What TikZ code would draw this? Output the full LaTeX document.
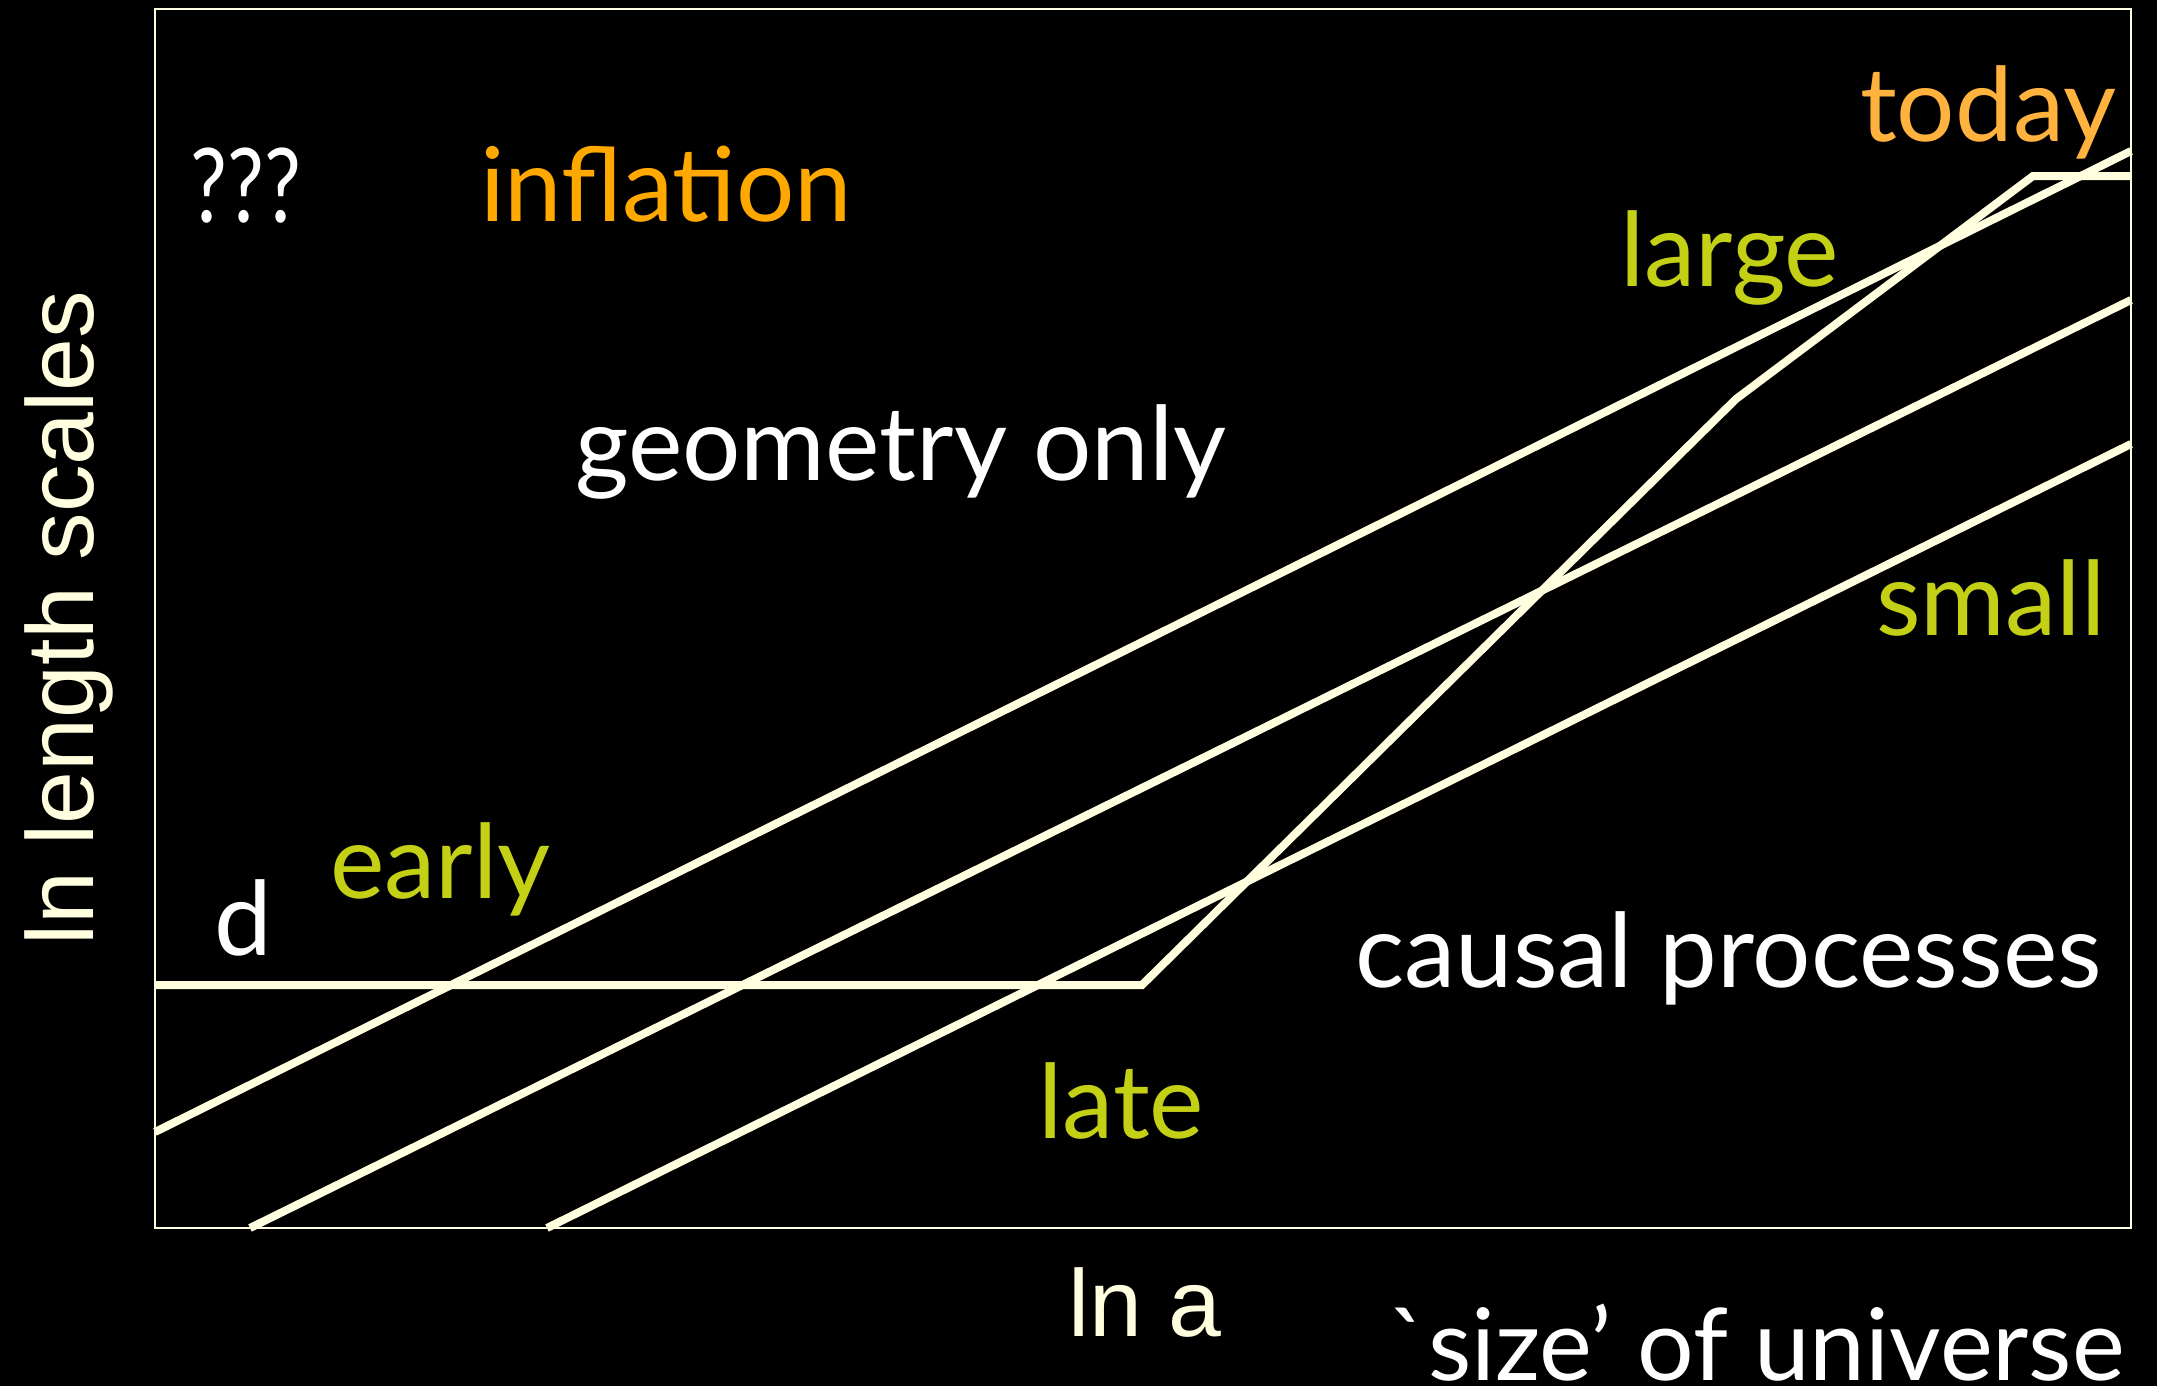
\documentclass[tikz,border=0pt]{standalone}
\usepackage{fontspec}
\usepackage{tikz}
\usetikzlibrary{positioning}
\newfontfamily\gill{Lato}
\newfontfamily\helv{Liberation Sans}
\definecolor{cream}{RGB}{255,255,224}
\definecolor{inflorange}{RGB}{255,168,0}
\definecolor{todayorange}{RGB}{255,178,62}
\definecolor{epochgreen}{RGB}{196,208,22}
\tikzstyle{word} = [anchor=base west, inner sep=0pt, font=\gill\fontsize{103}{110}\selectfont]
\tikzstyle{axisword} = [inner sep=0pt, font=\helv\fontsize{95}{100}\selectfont, cream]
\tikzstyle{track} = [draw=cream, line width=8pt]

\begin{document}
\begin{tikzpicture}[x=1pt, y=-1pt]
    \fill[black] (0,0) rectangle (2157,1386);
    \useasboundingbox (0,0) rectangle (2157,1386);
    \draw[cream, line width=2pt] (155,9) rectangle (2131,1228);

    % comoving scales
    \coordinate (s1a) at (155,1132);
    \coordinate (s1b) at (2131,151);
    \coordinate (s2a) at (250,1228);
    \coordinate (s2b) at (2131,300);
    \coordinate (s3a) at (547,1228);
    \coordinate (s3b) at (2131,444);
    \draw [track] (s1a) -- (s1b);
    \draw [track] (s2a) -- (s2b);
    \draw [track] (s3a) -- (s3b);

    % horizon
    \coordinate (h0) at (155,985);
    \coordinate (h1) at (1142,985);
    \coordinate (h2) at (1736,399);
    \coordinate (h3) at (2033,176);
    \coordinate (h4) at (2131,176);
    \draw [track] (h0) -- (h1) -- (h2) -- (h3) -- (h4);

    \node (qqq) [word, white] at (190,222) {\scalebox{0.8}[1]{???}};
    \node (infl) [word, inflorange] at (480,221) {inflation};
    \node (today) [word, todayorange] at (1860,142) {today};
    \node (large) [word, epochgreen] at (1620,286) {large};
    \node (geom) [word, white] at (575,480) {geometry only};
    \node (small) [word, epochgreen] at (1876,635) {small};
    \node (early) [word, epochgreen] at (330,898) {early};
    \node (d) [word, white] at (214,955) {d};
    \node (causal) [word, white] at (1355,987) {causal processes};
    \node (late) [word, epochgreen] at (1038,1138) {late};
    \node (size) [word, white, font=\gill\fontsize{100}{106}\selectfont] at (1388,1380) {`size’ of universe};
    \node (lna) [axisword, anchor=base west] at (1068,1336) {ln a};
    \node (lnlen) [axisword, rotate=90, anchor=base] at (93,618) {ln length scales};
  \end{tikzpicture}
\end{document}
